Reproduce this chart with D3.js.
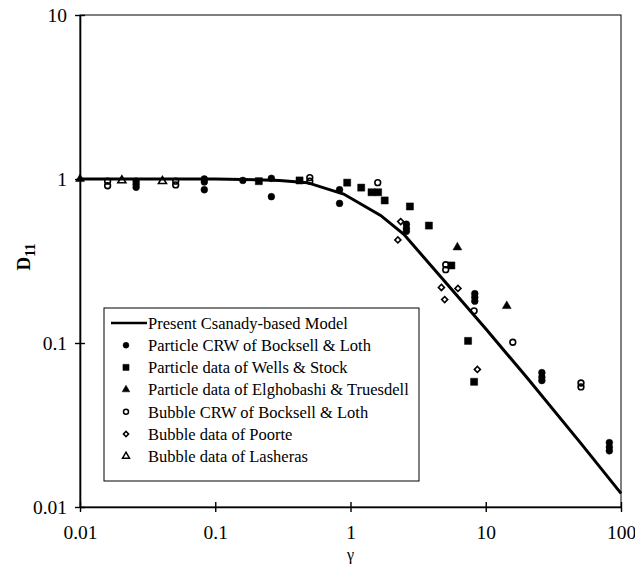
<!DOCTYPE html>
<html>
<head>
<meta charset="utf-8">
<script src="https://cdn.jsdelivr.net/npm/d3@7"></script>
<style>
  body { margin: 0; background: #fff; }
  svg text { font-family: "Liberation Serif", "Times New Roman", serif; fill: #000; }
</style>
</head>
<body>
<div id="viz"></div>
<script>
const width = 635;
const height = 568;
const margin = {top: 15, right: 14, bottom: 61, left: 80};

// model curve
const modelGamma = [0.01, 0.1, 0.2, 0.3, 0.48, 0.89, 1.67, 2.48, 5, 10, 20, 50, 100];
const modelD     = [1, 1, 0.99, 0.98, 0.95, 0.81, 0.60, 0.46, 0.236, 0.122, 0.062, 0.0247, 0.0121];

// Particle CRW of Bocksell & Loth
const crwPartGamma = [0.026, 0.026, 0.026, 0.083, 0.083, 0.083, 0.16, 0.26, 0.26, 0.83, 0.83,
                      2.59, 2.59, 2.59, 8.3, 8.3, 8.3, 26, 26, 26, 82, 82, 82];
const crwPartD     = [0.97, 0.93, 0.89, 1.0, 0.96, 0.86, 0.98, 1.01, 0.78, 0.86, 0.71,
                      0.53, 0.50, 0.48, 0.20, 0.19, 0.18, 0.066, 0.062, 0.059, 0.0247, 0.0232, 0.0220];

// Particle data of Wells & Stock
const wellsGamma = [0.21, 0.42, 0.945, 1.2, 1.43, 1.6, 1.79, 2.75, 3.8, 5.57, 7.4, 8.2];
const wellsD     = [0.97, 0.98, 0.95, 0.886, 0.83, 0.83, 0.74, 0.68, 0.52, 0.297, 0.103, 0.058];

// Particle data of Elghobashi & Truesdell
const elgGamma = [0.01, 6.17, 14.3];
const elgD     = [1.0, 0.383, 0.168];

// Bubble CRW of Bocksell & Loth
const crwBubGamma = [0.016, 0.016, 0.051, 0.051, 0.5, 0.5, 1.59, 5.06, 5.06, 8.2, 15.85, 50.6, 50.6];
const crwBubD     = [0.97, 0.91, 0.97, 0.92, 1.02, 0.97, 0.95, 0.30, 0.28, 0.157, 0.101, 0.057, 0.054];

// Bubble data of Poorte
const poorteGamma = [2.24, 2.35, 4.7, 4.97, 6.23, 8.67];
const poorteD     = [0.425, 0.55, 0.218, 0.184, 0.215, 0.069];

// Bubble data of Lasheras
const lashGamma = [0.0204, 0.0407];
const lashD     = [0.98, 0.97];

const xTicks = [0.01, 0.1, 1, 10, 100];
const yTicks = [0.01, 0.1, 1, 10];

const legendLabels = [
  'Present Csanady-based Model',
  'Particle CRW of Bocksell & Loth',
  'Particle data of Wells & Stock',
  'Particle data of Elghobashi & Truesdell',
  'Bubble CRW of Bocksell & Loth',
  'Bubble data of Poorte',
  'Bubble data of Lasheras'
];

const svg = d3.select('#viz')
  .append('svg')
    .attr('width', width)
    .attr('height', height);

const x = d3.scaleLog()
  .domain([0.01, 100])
  .range([margin.left, width - margin.right]);

const y = d3.scaleLog()
  .domain([0.01, 10])
  .range([height - margin.bottom, margin.top]);

// frame
svg.append('rect')
  .attr('x', x(0.01))
  .attr('y', y(10))
  .attr('width', x(100) - x(0.01))
  .attr('height', y(0.01) - y(10))
  .attr('fill', 'none')
  .attr('stroke', '#000')
  .attr('stroke-width', 1);

// axes
const xAxis = svg.append('g')
  .attr('transform', `translate(0, ${y(0.01)})`)
  .call(d3.axisBottom(x).tickValues(xTicks).tickFormat(d => String(d)).tickSize(5).tickSizeOuter(0).tickPadding(13));
const yAxis = svg.append('g')
  .attr('transform', `translate(${x(0.01)}, 0)`)
  .call(d3.axisLeft(y).tickValues(yTicks).tickFormat(d => String(d)).tickSize(5).tickSizeOuter(0).tickPadding(8));

[xAxis, yAxis].forEach(g => {
  g.select('.domain').attr('stroke-width', 1.6);
  g.selectAll('.tick line').attr('stroke-width', 1.4);
  g.selectAll('.tick text')
    .attr('font-family', '"Liberation Serif", serif')
    .attr('font-size', 19.5)
    .attr('fill', '#000');
});
// ticks cross the axis lines
xAxis.selectAll('.tick line').attr('y1', -5);
yAxis.selectAll('.tick line').attr('x1', 5);

// axis titles
svg.append('text')
  .attr('x', x(1))
  .attr('y', 560)
  .attr('text-anchor', 'middle')
  .attr('font-size', 16)
  .text('γ');

const yTitle = svg.append('text')
  .attr('transform', 'translate(30, 257) rotate(-90)')
  .attr('text-anchor', 'middle')
  .attr('font-size', 19)
  .attr('font-weight', 'bold');
yTitle.append('tspan').text('D');
yTitle.append('tspan').attr('font-size', 14).attr('dy', '0.35em').text('11');

// model line
const line = d3.line()
  .x(d => x(d[0]))
  .y(d => y(d[1]));
svg.append('path')
  .attr('d', line(d3.zip(modelGamma, modelD)))
  .attr('fill', 'none')
  .attr('stroke', '#000')
  .attr('stroke-width', 3);

// marker styles
const markers = [
  {g: crwPartGamma, d: crwPartD,  type: d3.symbolCircle,   size: 36, fill: '#000', rot: 0},
  {g: wellsGamma,   d: wellsD,    type: d3.symbolSquare,   size: 50, fill: '#000', rot: 0},
  {g: elgGamma,     d: elgD,      type: d3.symbolTriangle, size: 34, fill: '#000', rot: 0},
  {g: crwBubGamma,  d: crwBubD,   type: d3.symbolCircle,   size: 26, fill: 'none', rot: 0},
  {g: poorteGamma,  d: poorteD,   type: d3.symbolSquare,   size: 18, fill: 'none', rot: 45},
  {g: lashGamma,    d: lashD,     type: d3.symbolTriangle, size: 28, fill: 'none', rot: 0}
];

markers.forEach(m => {
  svg.append('g')
    .selectAll('path')
    .data(d3.zip(m.g, m.d))
    .join('path')
      .attr('d', d3.symbol().type(m.type).size(m.size))
      .attr('transform', d => `translate(${x(d[0])}, ${y(d[1])}) rotate(${m.rot})`)
      .attr('fill', m.fill)
      .attr('stroke', '#000')
      .attr('stroke-width', m.fill === 'none' ? 1.6 : 0.5);
});

// legend
const legend = svg.append('g');
legend.append('rect')
  .attr('x', 104)
  .attr('y', 308)
  .attr('width', 315)
  .attr('height', 173)
  .attr('fill', '#fff')
  .attr('stroke', '#000')
  .attr('stroke-width', 1);

const rowY = i => 323 + i * 22.2;

legend.append('line')
  .attr('x1', 111).attr('x2', 147)
  .attr('y1', rowY(0)).attr('y2', rowY(0))
  .attr('stroke', '#000')
  .attr('stroke-width', 2.5);

markers.forEach((m, i) => {
  legend.append('path')
    .attr('d', d3.symbol().type(m.type).size(m.size * 0.75))
    .attr('transform', `translate(126, ${rowY(i + 1)}) rotate(${m.rot})`)
    .attr('fill', m.fill)
    .attr('stroke', '#000')
    .attr('stroke-width', m.fill === 'none' ? 1.5 : 0.5);
});

legend.selectAll('text.lab')
  .data(legendLabels)
  .join('text')
    .attr('class', 'lab')
    .attr('x', 148)
    .attr('y', (d, i) => rowY(i))
    .attr('dy', '0.35em')
    .attr('font-size', 16.5)
    .text(d => d);
</script>
</body>
</html>
